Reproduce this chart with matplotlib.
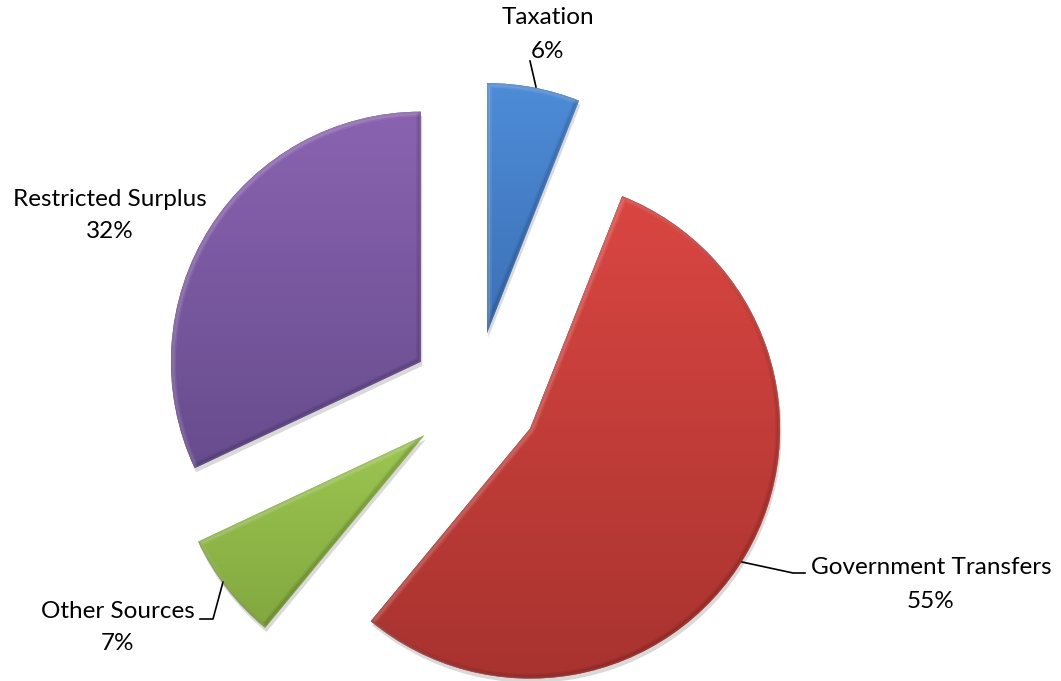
import numpy as np
import matplotlib
matplotlib.use("Agg")
import matplotlib.pyplot as plt
import matplotlib.patheffects as pe
import matplotlib.transforms as mtransforms
from matplotlib.patches import PathPatch
from matplotlib.colors import to_rgb

# revenue sources, clockwise from 12 o'clock
labels = ["Taxation", "Government Transfers", "Other Sources", "Restricted Surplus"]
shares = [6, 55, 7, 32]
top_colors = ["#4E8CD8", "#DA4642", "#9CC652", "#8A63B0"]
bottom_colors = ["#3C70B5", "#A8332F", "#82A83E", "#674C8E"]

plt.rcParams["font.family"] = ["Lato", "DejaVu Sans"]

fig = plt.figure(figsize=(10.61, 6.81), dpi=100)
ax = fig.add_axes([0, 0, 1, 1])

R = 250
wedges, _ = ax.pie(shares, explode=[0.256 * R] * len(shares), startangle=90,
                   counterclock=False, radius=R, center=(475, 285),
                   colors=top_colors,
                   wedgeprops=dict(linewidth=0))

# shifted copies of the data transform, used for the bevel edges
down_right = mtransforms.offset_copy(ax.transData, fig=fig, x=1.0, y=-1.0, units="points")
up_left = mtransforms.offset_copy(ax.transData, fig=fig, x=-1.0, y=1.0, units="points")

# vertical gradient inside every slice, soft shadow and a bevel
for w, c1, c2 in zip(wedges, top_colors, bottom_colors):
    w.set_path_effects([pe.SimplePatchShadow(offset=(1, -3), alpha=0.2,
                                             shadow_rgbFace="#444444"),
                        pe.Normal()])
    ext = w.get_path().get_extents()
    t = np.linspace(0, 1, 256)[:, None]
    grad = (1 - t) * np.array(to_rgb(c1)) + t * np.array(to_rgb(c2))
    grad = grad[:, None, :].repeat(2, axis=1)
    img = ax.imshow(grad, extent=(ext.x0, ext.x1, ext.y0, ext.y1),
                    origin="upper", aspect="auto", zorder=2,
                    interpolation="bilinear")
    img.set_clip_path(w)

    for lw, a in ((5, 0.08), (2.5, 0.12)):
        light = PathPatch(w.get_path(), facecolor="none", edgecolor="white",
                          lw=lw, alpha=a, zorder=3, transform=down_right)
        dark = PathPatch(w.get_path(), facecolor="none", edgecolor="black",
                         lw=lw, alpha=a * 0.8, zorder=3, transform=up_left)
        for p in (light, dark):
            ax.add_patch(p)
            p.set_clip_path(w)

ax.set_xlim(0, 1061)
ax.set_ylim(0, 681)
ax.set_aspect("equal")
ax.axis("off")

H = 681
fs = 17.5
# name and percentage of each slice, (x, name y, percent y) in pixels from top
label_pos = {
    "Taxation": (548, 18, 51),
    "Government Transfers": (931, 568, 601),
    "Other Sources": (118, 611, 644),
    "Restricted Surplus": (110, 199, 231),
}
for name, s in zip(labels, shares):
    x, y1, y2 = label_pos[name]
    ax.text(x, H - y1, name, ha="center", va="center", fontsize=fs)
    ax.text(x, H - y2, f"{s}%", ha="center", va="center", fontsize=fs)

# leader lines
ax.plot([530, 536], [H - 61, H - 87], color="black", lw=1.2)
ax.plot([742, 793, 805], [H - 562, H - 573, H - 573], color="black", lw=1.2)
ax.plot([200, 213, 223], [H - 619, H - 619, H - 582], color="black", lw=1.2)

fig.savefig("out.png", dpi=100)
